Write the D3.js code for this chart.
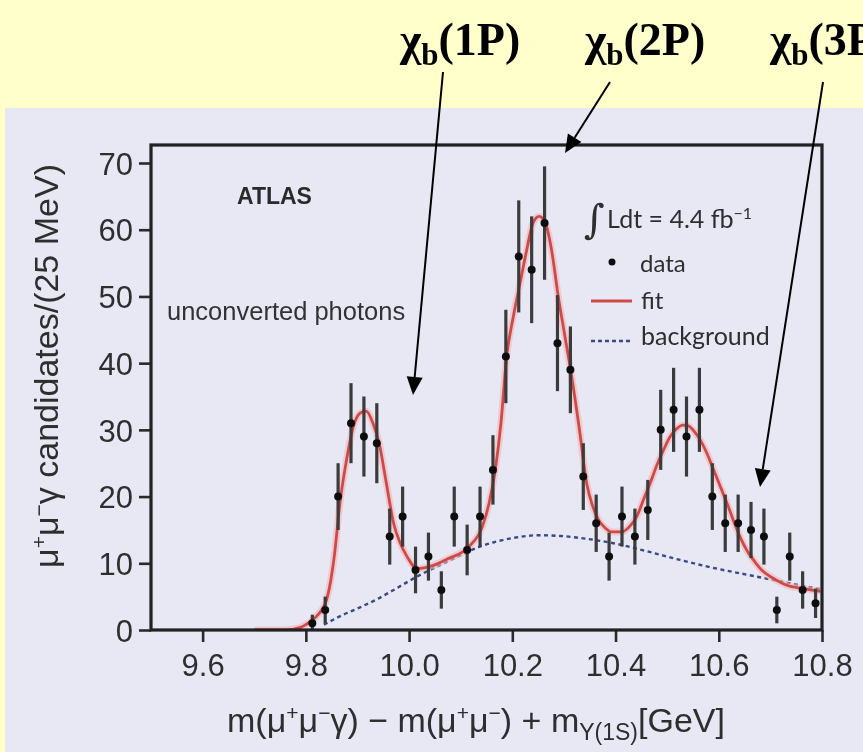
<!DOCTYPE html>
<html>
<head>
<meta charset="utf-8">
<script src="https://cdn.jsdelivr.net/npm/d3@7/dist/d3.min.js"></script>
<style>
  html, body { margin: 0; padding: 0; background: #FFFFCC; }
  svg { display: block; }
</style>
</head>
<body>
<svg id="chart" width="863" height="752"></svg>
<script>
// Bin centres (GeV), 25 MeV bins
const binCenters = [9.8125, 9.8375, 9.8625, 9.8875, 9.9125, 9.9375, 9.9625, 9.9875,
  10.0125, 10.0375, 10.0625, 10.0875, 10.1125, 10.1375, 10.1625, 10.1875,
  10.2125, 10.2375, 10.2625, 10.2875, 10.3125, 10.3375, 10.3625, 10.3875,
  10.4125, 10.4375, 10.4625, 10.4875, 10.5125, 10.5375, 10.5625, 10.5875,
  10.6125, 10.6375, 10.6625, 10.6875, 10.7125, 10.7375, 10.7625, 10.7875];
// Candidates per bin
const counts = [1, 3, 20, 31, 29, 28, 14, 17, 9, 11, 6, 17, 12, 17, 24, 41,
  56, 54, 61, 43, 39, 23, 16, 11, 17, 14, 18, 30, 33, 29, 33, 20,
  16, 16, 15, 14, 3, 11, 6, 4];
// Statistical uncertainty per bin
const errors = [1.3, 2, 5, 6, 6, 6, 4.2, 4.5, 3.5, 3.6, 2.8, 4.5, 3.8, 4.5, 5.2, 7,
  8.4, 8, 8.5, 7.2, 6.5, 5, 4.3, 3.6, 4.5, 4.2, 4.5, 6, 6.3, 6, 6.3, 5,
  4.3, 4.3, 4.2, 4.2, 2, 3.6, 2.8, 2.2];

// Fit curve (signal + background)
const fitMass = [9.70, 9.76, 9.79, 9.80, 9.82, 9.84, 9.855, 9.866, 9.88, 9.892, 9.905, 9.917,
  9.93, 9.942, 9.956, 9.97, 9.983, 9.996, 10.016, 10.044, 10.073, 10.116, 10.142, 10.155,
  10.167, 10.178, 10.189, 10.202, 10.215, 10.228, 10.24, 10.252, 10.264, 10.276, 10.289,
  10.302, 10.315, 10.331, 10.344, 10.356, 10.367, 10.38, 10.393, 10.412, 10.427, 10.441,
  10.454, 10.467, 10.48, 10.493, 10.506, 10.519, 10.53, 10.541, 10.552, 10.564, 10.577,
  10.59, 10.603, 10.616, 10.628, 10.641, 10.654, 10.667, 10.683, 10.70, 10.716, 10.732,
  10.764, 10.797];
const fitValue = [0, 0, 0.4, 0.8, 2, 4.5, 11, 19, 26, 30.5, 32.5, 32.8,
  31, 28, 22, 16, 13, 11, 9.2, 9.6, 10.6, 12.5, 15.5, 19,
  24, 31, 41, 47, 52, 57, 61, 62, 61, 57, 50,
  44, 38, 29.5, 22, 18.5, 16.5, 15.3, 14.7, 14.7, 15.5, 17,
  19.5, 22, 24.7, 27, 29, 30.2, 30.7, 30.6, 29.8, 28.5, 26.5,
  24, 21.5, 19, 16.5, 14, 12, 10.5, 9, 8, 7.3, 6.7,
  6.2, 5.8];

// Background component
const bgMass = [9.835, 9.87, 9.905, 9.94, 9.97, 10.015, 10.073, 10.141, 10.202, 10.25,
  10.293, 10.331, 10.396, 10.461, 10.525, 10.59, 10.654, 10.706, 10.764, 10.797];
const bgValue = [0.8, 2.2, 3.4, 4.7, 6, 8, 10.2, 12.6, 13.8, 14.2,
  14.1, 13.8, 13, 11.8, 10.5, 9.3, 8.3, 7.5, 6.6, 6.1];

const xTicks = [9.6, 9.8, 10.0, 10.2, 10.4, 10.6, 10.8];
const yTicks = [0, 10, 20, 30, 40, 50, 60, 70];

// Bottomonium states named above the panel
const stateLabels = ["(1P)", "(2P)", "(3P)"];

const svg = d3.select("#chart");
const W = 863, H = 752;

svg.append("rect").attr("width", W).attr("height", H).attr("fill", "#FFFFCC");
svg.append("rect").attr("x", 5).attr("y", 108).attr("width", W - 5).attr("height", H - 108)
  .attr("fill", "#E7E8F4");

const margin = { left: 151, right: 822, top: 145, bottom: 630 };
const x = d3.scaleLinear().domain([9.5, 10.8]).range([margin.left, margin.right]);
const y = d3.scaleLinear().domain([0, 72.7]).range([margin.bottom, margin.top]);

const defs = svg.append("defs");
defs.append("filter").attr("id", "soft")
  .append("feGaussianBlur").attr("stdDeviation", 0.5);
defs.append("clipPath").attr("id", "plotclip").append("rect")
  .attr("x", margin.left).attr("y", margin.top)
  .attr("width", margin.right - margin.left + 4).attr("height", margin.bottom - margin.top);

const g = svg.append("g").attr("filter", "url(#soft)");
const sans = "'Liberation Sans', Arial, Helvetica, sans-serif";
const legendFont = "Lato, 'Open Sans', sans-serif";

// Curves
const line = d3.line().curve(d3.curveMonotoneX);
const plot = g.append("g").attr("clip-path", "url(#plotclip)");

plot.append("path")
  .attr("d", line(bgMass.map((m, i) => [x(m), y(bgValue[i])])))
  .attr("fill", "none").attr("stroke", "#3a4888").attr("stroke-width", 2.4)
  .attr("stroke-dasharray", "4,3.5");

const fitPts = fitMass.map((m, i) => [x(m), y(fitValue[i])]);
plot.append("path").attr("d", line(fitPts))
  .attr("fill", "none").attr("stroke", "#f2b8b8").attr("stroke-width", 7).attr("opacity", 0.6);
plot.append("path").attr("d", line(fitPts))
  .attr("fill", "none").attr("stroke", "#cf4a4a").attr("stroke-width", 2.8);

// Data with error bars
const pts = plot.append("g");
binCenters.forEach((m, i) => {
  pts.append("line")
    .attr("x1", x(m)).attr("x2", x(m))
    .attr("y1", y(Math.max(0, counts[i] - errors[i]))).attr("y2", y(counts[i] + errors[i]))
    .attr("stroke", "#3a3a3a").attr("stroke-width", 3.2);
  pts.append("circle").attr("cx", x(m)).attr("cy", y(counts[i])).attr("r", 4)
    .attr("fill", "#111");
});

// Axes
const yAxis = d3.axisLeft(y).tickValues(yTicks).tickSize(12).tickPadding(6).tickFormat(d3.format("d"));
const xAxis = d3.axisBottom(x).tickValues(xTicks).tickSize(12).tickPadding(8).tickFormat(d3.format(".1f"));

const ya = g.append("g").attr("transform", `translate(${margin.left},0)`).call(yAxis);
const xa = g.append("g").attr("transform", `translate(0,${margin.bottom})`).call(xAxis);
[ya, xa].forEach(a => {
  a.select(".domain").remove();
  a.selectAll(".tick line").attr("stroke", "#2a2a2a").attr("stroke-width", 2.6);
  a.selectAll(".tick text").attr("fill", "#2e2e2e").style("font-family", sans).style("font-size", "31px");
});
xa.selectAll(".tick text").attr("dy", "0.85em");
ya.selectAll(".tick text").attr("dy", "0.36em");

// Frame
g.append("rect")
  .attr("x", margin.left).attr("y", margin.top)
  .attr("width", margin.right - margin.left).attr("height", margin.bottom - margin.top)
  .attr("fill", "none").attr("stroke", "#222").attr("stroke-width", 3.2);

// Axis titles
const yt = g.append("text")
  .attr("transform", `translate(58,366) rotate(-90)`)
  .attr("text-anchor", "middle").attr("fill", "#2e2e2e")
  .style("font-family", sans).style("font-size", "34px");
yt.append("tspan").text("μ");
yt.append("tspan").attr("dy", -12).style("font-size", "21px").text("+");
yt.append("tspan").attr("dy", 12).text("μ");
yt.append("tspan").attr("dy", -12).style("font-size", "21px").text("−");
yt.append("tspan").attr("dy", 12).text("γ candidates/(25 MeV)");

const xt = g.append("text")
  .attr("x", 476).attr("y", 732)
  .attr("text-anchor", "middle").attr("fill", "#2e2e2e")
  .style("font-family", sans).style("font-size", "34px");
xt.append("tspan").text("m(μ");
xt.append("tspan").attr("dy", -12).style("font-size", "21px").text("+");
xt.append("tspan").attr("dy", 12).text("μ");
xt.append("tspan").attr("dy", -12).style("font-size", "21px").text("−");
xt.append("tspan").attr("dy", 12).text("γ) − m(μ");
xt.append("tspan").attr("dy", -12).style("font-size", "21px").text("+");
xt.append("tspan").attr("dy", 12).text("μ");
xt.append("tspan").attr("dy", -12).style("font-size", "21px").text("−");
xt.append("tspan").attr("dy", 12).text(") + m");
xt.append("tspan").attr("dy", 8).style("font-size", "23px").text("Υ(1S)");
xt.append("tspan").attr("dy", -8).text("[GeV]");

// In-plot texts
g.append("text").attr("x", 237).attr("y", 204).text("ATLAS")
  .attr("fill", "#2a2a2a").style("font-family", sans).style("font-weight", "bold").style("font-size", "23px");
g.append("text").attr("x", 167).attr("y", 320).text("unconverted photons")
  .attr("fill", "#333").style("font-family", sans).style("font-size", "25.5px");

// Legend
const lg = g.append("g").style("font-family", legendFont).attr("fill", "#2e2e2e");
lg.append("text").attr("x", 584).attr("y", 233).style("font-size", "40px").style("font-family", "'DejaVu Serif', serif")
  .text("∫");
const lum = lg.append("text").attr("x", 607).attr("y", 228).style("font-size", "25px");
lum.append("tspan").text("Ldt = 4.4 fb");
lum.append("tspan").attr("dy", -9).style("font-size", "16px").text("−1");
lg.append("circle").attr("cx", 612).attr("cy", 262).attr("r", 3.5).attr("fill", "#111");
lg.append("text").attr("x", 640).attr("y", 272).style("font-size", "24px").text("data");
lg.append("line").attr("x1", 591).attr("x2", 632).attr("y1", 301).attr("y2", 301)
  .attr("stroke", "#cf4a4a").attr("stroke-width", 3);
lg.append("text").attr("x", 641).attr("y", 309).style("font-size", "24px").text("fit");
lg.append("line").attr("x1", 591).attr("x2", 632).attr("y1", 341).attr("y2", 341)
  .attr("stroke", "#3a4888").attr("stroke-width", 2.4).attr("stroke-dasharray", "4,3");
lg.append("text").attr("x", 641).attr("y", 345).style("font-size", "25px").text("background");

// State labels above the panel, with arrows pointing to the peaks
const labelX = [400, 585, 770];
const arrows = [
  { from: [443, 72], to: [413, 395] },
  { from: [610, 82], to: [565, 153] },
  { from: [823, 82], to: [760, 487] }
];
const serif = "'Liberation Serif', 'Times New Roman', serif";
stateLabels.forEach((s, i) => {
  const t = svg.append("text").attr("x", labelX[i]).attr("y", 55)
    .attr("fill", "#000").style("font-family", serif).style("font-weight", "bold").style("font-size", "46px");
  t.append("tspan").text("χ");
  t.append("tspan").attr("dy", 10).style("font-size", "31px").text("b");
  t.append("tspan").attr("dy", -10).text(s);
});
arrows.forEach(a => {
  const [x1, y1] = a.from, [x2, y2] = a.to;
  const ang = Math.atan2(y2 - y1, x2 - x1);
  const len = 18, half = 8;
  const bx = x2 - len * Math.cos(ang), by = y2 - len * Math.sin(ang);
  svg.append("line").attr("x1", x1).attr("y1", y1).attr("x2", bx).attr("y2", by)
    .attr("stroke", "#000").attr("stroke-width", 2);
  const px = -Math.sin(ang) * half, py = Math.cos(ang) * half;
  svg.append("path")
    .attr("d", `M${x2},${y2}L${bx + px},${by + py}L${bx - px},${by - py}Z`)
    .attr("fill", "#000");
});
</script>
</body>
</html>
